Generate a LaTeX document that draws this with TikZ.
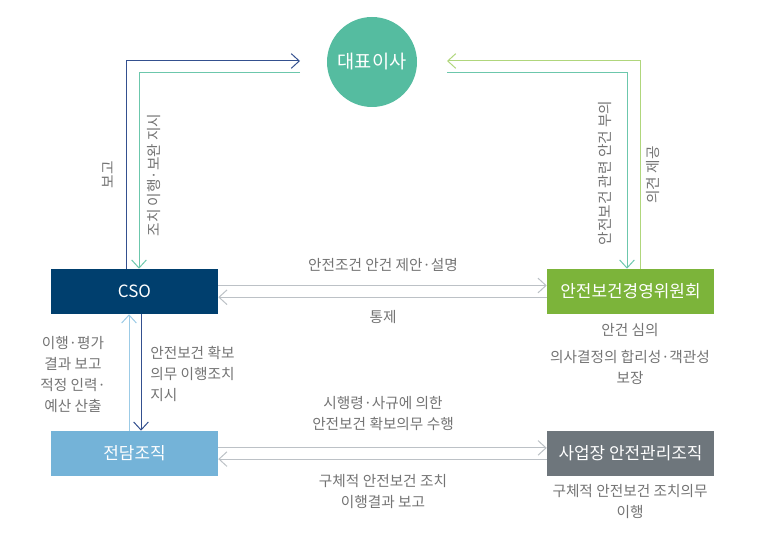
\documentclass[tikz,border=0pt]{standalone}
\usepackage{fontspec}
\setmainfont{Noto Sans CJK KR}
\usetikzlibrary{arrows.meta}
\definecolor{ceoC}{HTML}{55BCA0}
\definecolor{csoC}{HTML}{003F6E}
\definecolor{comC}{HTML}{7CB43A}
\definecolor{dedC}{HTML}{74B3D8}
\definecolor{siteC}{HTML}{6E767C}
\definecolor{navyL}{HTML}{34508F}
\definecolor{tealL}{HTML}{6CC7AC}
\definecolor{greenL}{HTML}{B0D67C}
\definecolor{grayL}{HTML}{BCC1C6}
\definecolor{lblueL}{HTML}{9CCBE6}
\definecolor{txtC}{HTML}{737373}
\tikzset{
  box/.style={rectangle, minimum width=125.25pt, minimum height=33.75pt, inner sep=0pt, text=white, font=\fontsize{12.7}{15}\selectfont},
  lbl/.style={text=txtC, align=center, inner sep=0pt, font=\fontsize{11}{15.75}\selectfont},
  conn/.style={line width=0.75pt, -{Straight Barb[length=6pt,width=11pt]}},
}
\begin{document}
\begin{tikzpicture}[x=0.75pt,y=-0.75pt]
\useasboundingbox (0,0) rectangle (760,555);
% nodes
\node[circle, fill=ceoC, minimum size=67.5pt, inner sep=0pt, text=white, font=\fontsize{14}{16}\selectfont] (ceo) at (372,62) {대표이사};
\node[box, fill=csoC] (cso) at (134.5,291.5) {CSO};
\node[box, fill=comC] (com) at (630.5,291.5) {안전보건경영위원회};
\node[box, fill=dedC] (ded) at (134.5,453.5) {전담조직};
\node[box, fill=siteC] (site) at (630.5,453.5) {사업장 안전관리조직};
% route coordinates
\coordinate (nA) at (300,61);
\coordinate (tA) at (300,73);
\coordinate (gA) at (447,61);
\coordinate (rA) at (447,73);
\coordinate (nB) at (126,0);
\coordinate (tB) at (139,0);
\coordinate (gB) at (640,0);
\coordinate (rB) at (627,0);
% top connectors
\draw[conn, navyL] (nB |- cso.north) |- (nA);
\draw[conn, tealL] (tA) -| (tB |- cso.north);
\draw[conn, greenL] (gB |- com.north) |- (gA);
\draw[conn, tealL] (rA) -| (rB |- com.north);
% horizontal connectors
\draw[conn, grayL] ([yshift=4.5pt]cso.east) -- ([yshift=4.5pt]com.west);
\draw[conn, grayL] ([yshift=-4.3pt]com.west) -- ([yshift=-4.3pt]cso.east);
\draw[conn, grayL] ([yshift=4.2pt]ded.east) -- ([yshift=4.2pt]site.west);
\draw[conn, grayL] ([yshift=-4.2pt]site.west) -- ([yshift=-4.2pt]ded.east);
% vertical connectors
\draw[conn, lblueL] ([xshift=-4.1pt]ded.north) -- ([xshift=-4.1pt]cso.south);
\draw[conn, navyL] ([xshift=4.9pt]cso.south) -- ([xshift=4.9pt]ded.north);
% labels
\node[lbl, rotate=90] (l1) at (108,175) {보고};
\node[lbl, rotate=90] (l2) at (154,175) {조치 이행·보완 지시};
\node[lbl, rotate=90] (l3) at (605,173) {안전보건 관련 안건 부의};
\node[lbl, rotate=90] (l4) at (653,175) {의견 제공};
\node[lbl] (l5) at (383,265) {안전조건 안건 제안·설명};
\node[lbl] (l6) at (383,317) {통제};
\node[lbl] (l7) at (383,413.5) {시행령·사규에 의한\\안전보건 확보의무 수행};
\node[lbl] (l8) at (383,492) {구체적 안전보건 조치\\이행결과 보고};
\node[lbl] (l9) at (73,374.5) {이행·평가\\결과 보고\\적정 인력·\\예산 산출};
\node[lbl, align=left, anchor=west] (l10) at (150,373.5) {안전보건 확보\\의무 이행조치\\지시};
\node[lbl] (l11) at (630,330) {안건 심의};
\node[lbl] (l12) at (630,367) {의사결정의 합리성·객관성\\보장};
\node[lbl] (l13) at (630,502) {구체적 안전보건 조치의무\\이행};
\end{tikzpicture}
\end{document}
